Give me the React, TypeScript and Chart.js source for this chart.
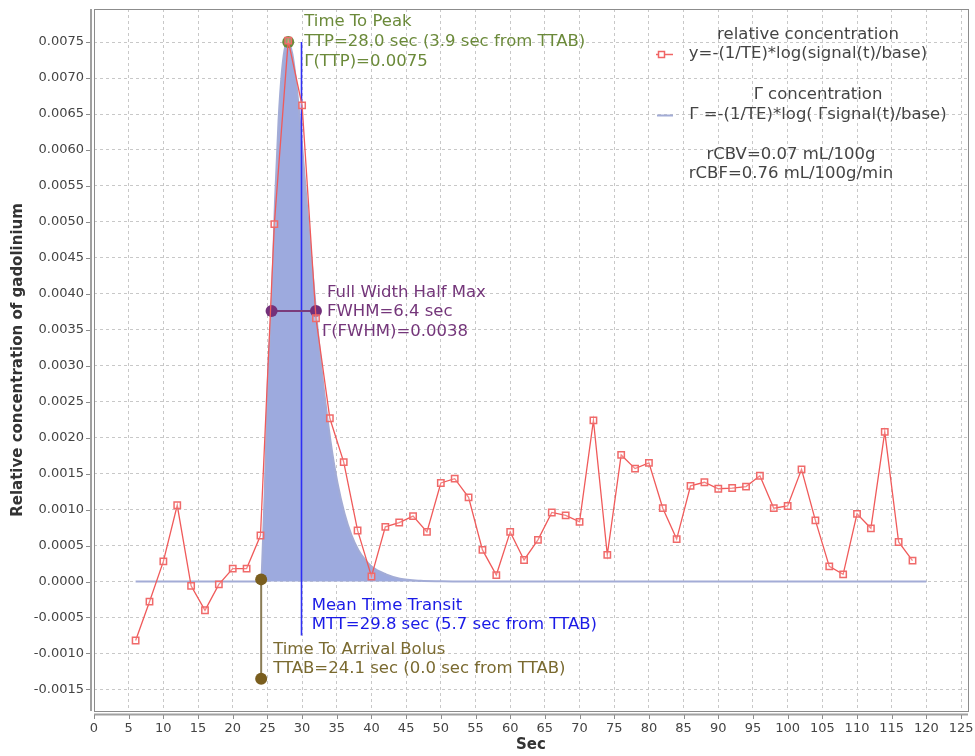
import React, { useEffect, useRef } from "react";
import { Chart, registerables } from "chart.js";

Chart.register(...registerables);

// ---- data ----
const sampleTimes = [
  6, 8, 10, 12, 14, 16, 18, 20, 22, 24, 26, 28, 30, 32, 34, 36, 38, 40, 42, 44,
  46, 48, 50, 52, 54, 56, 58, 60, 62, 64, 66, 68, 70, 72, 74, 76, 78, 80, 82, 84,
  86, 88, 90, 92, 94, 96, 98, 100, 102, 104, 106, 108, 110, 112, 114, 116, 118,
];
const relativeConcentration = [
  -0.00082, -0.00028, 0.00028, 0.00106, -0.00006, -0.0004, -0.00004, 0.00018, 0.00018, 0.00064,
  0.00497, 0.00752, 0.00662, 0.00366, 0.00227, 0.00166, 0.00071, 0.00007, 0.00076, 0.00082,
  0.00091, 0.00069, 0.00137, 0.00143, 0.00117, 0.00044, 0.00009, 0.00069, 0.0003, 0.00058,
  0.00096, 0.00092, 0.00083, 0.00224, 0.00037, 0.00176, 0.00157, 0.00165, 0.00102, 0.00059,
  0.00133, 0.00138, 0.00129, 0.0013, 0.00132, 0.00147, 0.00102, 0.00105, 0.00156, 0.00085,
  0.00021, 0.0001, 0.00094, 0.00074, 0.00208, 0.00055, 0.00029,
];
const gammaTimes = [
  6, 24.1, 24.3, 24.6, 25.1, 25.6, 26.1, 26.6, 27.1, 27.6, 28.0, 28.6, 29.1, 29.6, 30.1, 31.1,
  32.1, 33.1, 34.1, 35.1, 36.1, 37.1, 38.1, 39.1, 40.1, 42.1, 44.1, 47.1, 50.1, 53, 120,
];
const gammaValues = [
  0, 0, 0.0004, 0.0012, 0.0029, 0.0038, 0.0053, 0.0064, 0.0071, 0.00745, 0.0075, 0.00733, 0.00698,
  0.0065, 0.00594, 0.00476, 0.00365, 0.0027, 0.00195, 0.00137, 0.00095, 0.00065, 0.00044, 0.0003,
  0.0002, 0.0001, 0.00004, 0.00001, 0.000003, 0, 0,
];
const xTickValues = [0, 5, 10, 15, 20, 25, 30, 35, 40, 45, 50, 55, 60, 65, 70, 75, 80, 85, 90, 95, 100, 105, 110, 115, 120, 125];
const yTickValues = [-0.0015, -0.001, -0.0005, 0, 0.0005, 0.001, 0.0015, 0.002, 0.0025, 0.003, 0.0035, 0.004, 0.0045, 0.005, 0.0055, 0.006, 0.0065, 0.007, 0.0075];

const TTAB = 24.1;
const TTAB_TOP = 0.00003;
const TTAB_LOW = -0.00135;
const TTP = 28.0;
const TTP_VALUE = 0.0075;
const MTT = 29.8;
const MTT_LOW = -0.00075;
const FWHM_START = 25.6;
const FWHM_END = 32.0;
const FWHM_VALUE = 0.00376;

const FONT = '"DejaVu Sans", "Liberation Sans", sans-serif';

const overlayPlugin = {
  id: "overlay",
  beforeDraw(chart: any) {
    const { ctx } = chart;
    ctx.save();
    ctx.fillStyle = "#ffffff";
    ctx.fillRect(0, 0, chart.width, chart.height);
    ctx.restore();
  },
  afterDatasetDraw(chart: any, args: any) {
    if (args.index !== 1) return;
    const { ctx, scales } = chart;
    const x = scales.x;
    const y = scales.y;
    ctx.save();
    // MTT line
    ctx.strokeStyle = "#2f2ff5";
    ctx.lineWidth = 1.6;
    ctx.beginPath();
    ctx.moveTo(Math.round(x.getPixelForValue(MTT)) + 0.5, y.getPixelForValue(TTP_VALUE));
    ctx.lineTo(Math.round(x.getPixelForValue(MTT)) + 0.5, y.getPixelForValue(MTT_LOW));
    ctx.stroke();
    // TTAB line
    ctx.strokeStyle = "#8a7c55";
    ctx.lineWidth = 2;
    ctx.beginPath();
    ctx.moveTo(x.getPixelForValue(TTAB), y.getPixelForValue(TTAB_TOP));
    ctx.lineTo(x.getPixelForValue(TTAB), y.getPixelForValue(TTAB_LOW));
    ctx.stroke();
    // FWHM line
    ctx.strokeStyle = "#7b3c7b";
    ctx.beginPath();
    ctx.moveTo(x.getPixelForValue(FWHM_START), y.getPixelForValue(FWHM_VALUE));
    ctx.lineTo(x.getPixelForValue(FWHM_END), y.getPixelForValue(FWHM_VALUE));
    ctx.stroke();
    const dot = (vx: number, vy: number, c: string) => {
      ctx.fillStyle = c;
      ctx.beginPath();
      ctx.arc(x.getPixelForValue(vx), y.getPixelForValue(vy), 6, 0, Math.PI * 2);
      ctx.fill();
    };
    dot(TTAB, TTAB_TOP, "#7a5e1e");
    dot(TTAB, TTAB_LOW, "#7a5e1e");
    dot(FWHM_START, FWHM_VALUE, "#74307a");
    dot(FWHM_END, FWHM_VALUE, "#74307a");
    dot(TTP, TTP_VALUE, "#6b8a3a");
    ctx.restore();
  },
  afterDraw(chart: any) {
    const { ctx, scales, chartArea } = chart;
    const x = scales.x;
    const y = scales.y;
    ctx.save();
    // frame
    ctx.strokeStyle = "#8c8c8c";
    ctx.lineWidth = 1;
    ctx.strokeRect(chartArea.left + 0.5, chartArea.top + 0.5, chartArea.right - chartArea.left, chartArea.bottom - chartArea.top);
    // axis lines
    ctx.strokeStyle = "#a0a0a0";
    ctx.lineWidth = 2;
    ctx.beginPath();
    ctx.moveTo(chartArea.left - 3, chartArea.top);
    ctx.lineTo(chartArea.left - 3, chartArea.bottom);
    ctx.moveTo(chartArea.left, chartArea.bottom + 3.5);
    ctx.lineTo(chartArea.right, chartArea.bottom + 3.5);
    ctx.stroke();
    ctx.lineWidth = 1;
    ctx.strokeStyle = "#8c8c8c";
    ctx.beginPath();
    for (const t of xTickValues) {
      const px = Math.round(x.getPixelForValue(t)) + 0.5;
      ctx.moveTo(px, chartArea.bottom + 4);
      ctx.lineTo(px, chartArea.bottom + 8);
    }
    for (const t of yTickValues) {
      const py = Math.round(y.getPixelForValue(t)) + 0.5;
      ctx.moveTo(chartArea.left - 4, py);
      ctx.lineTo(chartArea.left - 8, py);
    }
    ctx.stroke();

    // axis titles
    ctx.fillStyle = "#333333";
    ctx.font = `bold 15px ${FONT}`;
    ctx.textAlign = "center";
    ctx.textBaseline = "middle";
    ctx.fillText("Sec", (chartArea.left + chartArea.right) / 2, 745);
    ctx.save();
    ctx.translate(18, (chartArea.top + chartArea.bottom) / 2);
    ctx.rotate(-Math.PI / 2);
    ctx.fillText("Relative concentration of gadolinium", 0, 0);
    ctx.restore();

    // annotation texts
    ctx.font = `16.5px ${FONT}`;
    ctx.textAlign = "left";
    ctx.textBaseline = "middle";
    const ttpX = x.getPixelForValue(TTP);
    const ttpY = y.getPixelForValue(TTP_VALUE);
    ctx.fillStyle = "#6b8a3a";
    ctx.fillText("Time To Peak", ttpX + 16, ttpY - 20);
    ctx.fillText("TTP=28.0 sec (3.9 sec from TTAB)", ttpX + 16, ttpY);
    ctx.fillText("\u0393(TTP)=0.0075", ttpX + 16, ttpY + 20);

    const fX = x.getPixelForValue(FWHM_END);
    const fY = y.getPixelForValue(FWHM_VALUE);
    ctx.fillStyle = "#74367a";
    ctx.fillText("Full Width Half Max", fX + 11, fY - 18);
    ctx.fillText("FWHM=6.4 sec", fX + 11, fY + 1);
    ctx.fillText("\u0393(FWHM)=0.0038", fX + 6, fY + 21);

    const mX = x.getPixelForValue(MTT);
    const zeroY = y.getPixelForValue(0);
    ctx.fillStyle = "#1a1ae6";
    ctx.fillText("Mean Time Transit", mX + 11, zeroY + 24);
    ctx.fillText("MTT=29.8 sec (5.7 sec from TTAB)", mX + 11, zeroY + 43);

    const aX = x.getPixelForValue(TTAB);
    ctx.fillStyle = "#7a6a30";
    ctx.fillText("Time To Arrival Bolus", aX + 12, zeroY + 68);
    ctx.fillText("TTAB=24.1 sec (0.0 sec from TTAB)", aX + 12, zeroY + 87);

    // legend
    ctx.fillStyle = "#444444";
    ctx.textAlign = "center";
    ctx.fillText("relative concentration", 808, 35);
    ctx.fillText("y=-(1/TE)*log(signal(t)/base)", 808, 54);
    ctx.fillText("\u0393 concentration", 818, 95);
    ctx.fillText("\u0393 =-(1/TE)*log( \u0393signal(t)/base)", 818, 115);
    ctx.fillText("rCBV=0.07 mL/100g", 791, 155);
    ctx.fillText("rCBF=0.76 mL/100g/min", 791, 174);
    // legend markers
    ctx.strokeStyle = "#f06464";
    ctx.lineWidth = 1.5;
    ctx.beginPath();
    ctx.moveTo(656, 54.5);
    ctx.lineTo(673, 54.5);
    ctx.stroke();
    ctx.fillStyle = "#ffffff";
    ctx.fillRect(658, 51, 7, 7);
    ctx.strokeRect(658.5, 51.5, 6, 6);
    ctx.strokeStyle = "#a3acd6";
    ctx.lineWidth = 2;
    ctx.beginPath();
    ctx.moveTo(657, 115.5);
    ctx.lineTo(673, 115.5);
    ctx.stroke();
    ctx.restore();
  },
};

export default function App() {
  const canvasRef = useRef<HTMLCanvasElement | null>(null);

  useEffect(() => {
    if (!canvasRef.current) return;
    const redData = sampleTimes.map((t, i) => ({ x: t, y: relativeConcentration[i] }));
    const gammaData = gammaTimes.map((t, i) => ({ x: t, y: gammaValues[i] }));
    const chart = new Chart(canvasRef.current, {
      type: "line",
      data: {
        datasets: [
          {
            label: "relative concentration",
            data: redData,
            borderColor: "#f05a5a",
            borderWidth: 1.3,
            pointStyle: "rect",
            pointRadius: 4.5,
            pointBorderWidth: 1.5,
            pointBorderColor: "#f06a6a",
            pointBackgroundColor: "rgba(255,255,255,0.25)",
            fill: false,
            tension: 0,
          },
          {
            label: "\u0393 concentration",
            data: gammaData,
            borderColor: "#a3acd6",
            borderWidth: 2,
            backgroundColor: "#9daade",
            fill: "origin",
            pointRadius: 0,
            cubicInterpolationMode: "monotone",
          },
        ],
      },
      options: {
        responsive: false,
        animation: false,
        layout: { padding: { left: 0, top: 9, right: 7, bottom: 0 } },
        plugins: { legend: { display: false }, tooltip: { enabled: false } },
        scales: {
          x: {
            type: "linear",
            min: 0,
            max: 126,
            afterFit: (s: any) => {
              s.height = 45;
              s.paddingLeft = 0;
              s.paddingRight = 0;
              s.paddingTop = 0;
              s.paddingBottom = 0;
            },
            afterBuildTicks: (s: any) => {
              s.ticks = xTickValues.map((v) => ({ value: v }));
            },
            ticks: {
              color: "#444444",
              font: { family: FONT, size: 13 },
              padding: 10,
              maxRotation: 0,
              autoSkip: false,
              callback: (v: any) => String(v),
            },
            grid: { color: "#c8c8c8", drawTicks: false },
            border: { display: false, dash: [3, 3] },
          },
          y: {
            type: "linear",
            min: -0.0018,
            max: 0.00796,
            afterFit: (s: any) => {
              s.width = 94;
              s.paddingLeft = 0;
              s.paddingRight = 0;
              s.paddingTop = 0;
              s.paddingBottom = 0;
            },
            afterBuildTicks: (s: any) => {
              s.ticks = yTickValues.map((v) => ({ value: v }));
            },
            ticks: {
              color: "#444444",
              font: { family: FONT, size: 13 },
              padding: 10,
              autoSkip: false,
              callback: (v: any) => Number(v).toFixed(4),
            },
            grid: { color: "#c8c8c8", drawTicks: false },
            border: { display: false, dash: [3, 3] },
          },
        },
      },
      plugins: [overlayPlugin],
    } as any);
    return () => chart.destroy();
  }, []);

  return (
    <div style={{ position: "absolute", left: 0, top: 0, width: 975, height: 756, background: "#fff" }}>
      <canvas ref={canvasRef} width={975} height={756} style={{ display: "block" }} />
    </div>
  );
}
